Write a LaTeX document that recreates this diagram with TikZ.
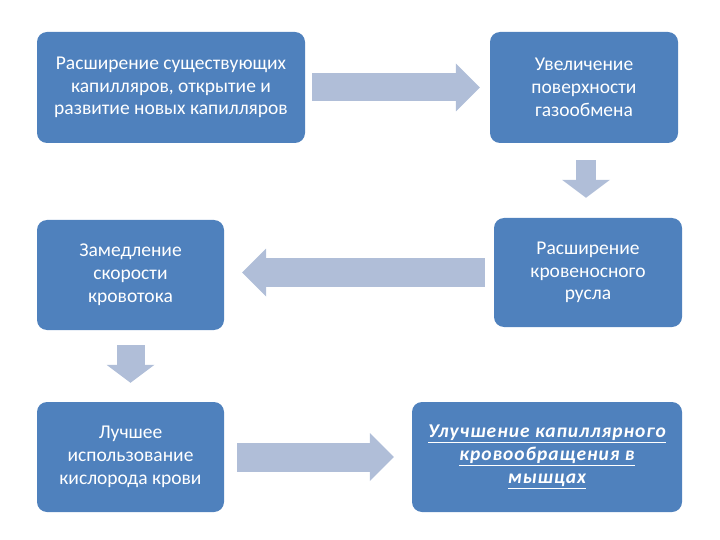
\documentclass[tikz,border=0pt]{standalone}
\usepackage{fontspec}
\setmainfont{Carlito}
\usepackage{xcolor}
\usepackage{tikz}
\usetikzlibrary{calc,arrows.meta}
\definecolor{boxblue}{RGB}{79,129,189}
\definecolor{arrowblue}{RGB}{176,190,216}

\begin{document}
\begin{tikzpicture}[x=1pt,y=-1pt,
  stage/.style={fill=boxblue, rounded corners=10pt, text=white, align=center,
    inner sep=0pt, minimum height=110pt, font=\fontsize{19.5}{22.8}\selectfont},
  fatarrow/.style={arrowblue, line width=28pt,
    -{Triangle[line width=0pt,length=24pt,width=48pt]}},
  downarrow/.style={arrowblue, line width=#1,
    -{Triangle[line width=0pt,length=18pt,width=48pt]}}]
\useasboundingbox (0,0) rectangle (720,540);

% top row
\node[stage, minimum width=268pt, minimum height=111pt] (widen) at (171,87.5)
  {Расширение существующих\\капилляров, открытие и\\развитие новых капилляров};
\node[stage, minimum width=188pt, minimum height=111pt] (surface) at (584,87.5)
  {Увеличение\\поверхности\\газообмена};

% middle row
\node[stage, minimum width=188pt, minimum height=109pt] (bed) at (588,272.5)
  {Расширение\\кровеносного\\русла};
\node[stage, minimum width=187pt] (slow) at (130.5,275)
  {Замедление\\скорости\\кровотока};

% bottom row
\node[stage, minimum width=187pt] (oxygen) at (130.5,457)
  {Лучшее\\использование\\кислорода крови};
\node[stage, minimum width=270pt, font=\fontsize{19.5}{22.8}\selectfont\bfseries\itshape\addfontfeature{LetterSpace=5}]
  (improve) at (547,457)
  {\underline{Улучшение капиллярного}\\
   \underline{кровообращения в}\\
   \underline{мышцах}};

% block arrows
\draw[fatarrow, shorten <=7pt, shorten >=10pt] (widen) -- (surface);
\draw[downarrow=20pt, shorten <=17pt, shorten >=20pt]
  ($(surface.south)+(2,0)$) -- ($(bed.north)+(-2,0)$);
\draw[fatarrow, line width=29pt, shorten <=9pt, shorten >=18pt]
  (bed.west) -- (bed.west -| slow.east);
\draw[downarrow=28pt, shorten <=15pt, shorten >=19pt] (slow) -- (oxygen);
\draw[fatarrow, line width=29pt, shorten <=13pt, shorten >=18pt] (oxygen) -- (improve);
\end{tikzpicture}
\end{document}
